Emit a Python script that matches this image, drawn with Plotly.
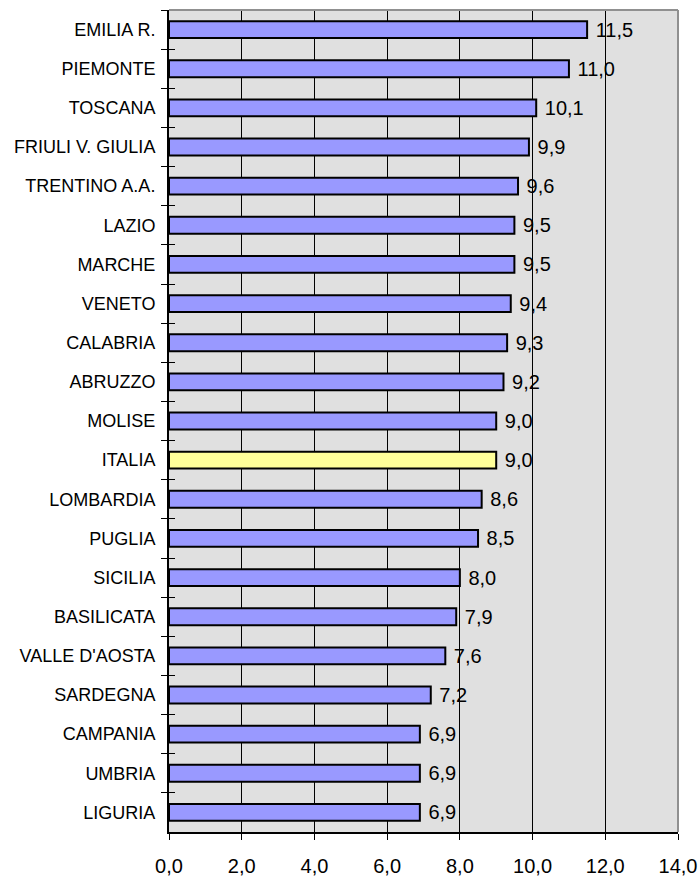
import plotly.graph_objects as go

regions = ["EMILIA R.", "PIEMONTE", "TOSCANA", "FRIULI V. GIULIA", "TRENTINO A.A.",
           "LAZIO", "MARCHE", "VENETO", "CALABRIA", "ABRUZZO", "MOLISE", "ITALIA",
           "LOMBARDIA", "PUGLIA", "SICILIA", "BASILICATA", "VALLE D'AOSTA",
           "SARDEGNA", "CAMPANIA", "UMBRIA", "LIGURIA"]
values = [11.5, 11.0, 10.1, 9.9, 9.6, 9.5, 9.5, 9.4, 9.3, 9.2, 9.0, 9.0,
          8.6, 8.5, 8.0, 7.9, 7.6, 7.2, 6.9, 6.9, 6.9]
x_ticks = [0, 2, 4, 6, 8, 10, 12, 14]

colors = ["#FFFF99" if r == "ITALIA" else "#9999FF" for r in regions]
labels = [" " + f"{v:.1f}".replace(".", ",") for v in values]

FONT = "Arial"
n = len(regions)
y_range = [n - 0.5, -0.5]  # reversed: first region on top

fig = go.Figure(go.Bar(
    x=values, y=regions, orientation="h",
    marker=dict(color=colors, line=dict(color="black", width=2)),
    text=labels, textposition="outside", cliponaxis=False,
    constraintext="none",
    textfont=dict(family=FONT, size=20, color="black"),
    width=0.43, hoverinfo="x+y",
))
# invisible helper trace so that the overlay axis draws the inner half of the ticks
fig.add_trace(go.Scatter(
    x=values, y=regions, yaxis="y2", mode="markers",
    marker=dict(opacity=0), hoverinfo="skip", showlegend=False,
))

fig.update_layout(
    width=699, height=878,
    margin=dict(l=169, r=21, t=10, b=46, autoexpand=False),
    paper_bgcolor="white", plot_bgcolor="#E0E0E0",
    separators=",.",
    showlegend=False,
    font=dict(family=FONT, color="black"),
    yaxis=dict(
        type="category", categoryarray=regions, categoryorder="array",
        range=y_range, tickson="boundaries",
        showline=True, linecolor="black", linewidth=2,
        ticks="outside", ticklen=6, tickcolor="black", tickwidth=1,
        ticklabelstandoff=8,
        tickfont=dict(family=FONT, size=18), showgrid=False, automargin=False,
    ),
    yaxis2=dict(
        overlaying="y", side="left", type="category",
        categoryarray=regions, categoryorder="array",
        range=y_range, tickson="boundaries",
        ticks="inside", ticklen=6, tickcolor="black", tickwidth=1,
        showticklabels=False, showgrid=False, showline=False, zeroline=False,
    ),
)
fig.update_xaxes(
    range=[0, 14], tickvals=x_ticks, tickformat=".1f",
    showgrid=True, gridcolor="black", gridwidth=1,
    showline=True, linecolor="black", linewidth=2,
    ticks="outside", ticklen=6, tickcolor="black", tickwidth=1,
    ticklabelstandoff=9,
    tickfont=dict(family=FONT, size=20), zeroline=False, automargin=False,
)
# gray top and right border
fig.add_shape(type="line", xref="paper", yref="paper", x0=0, x1=1, y0=1, y1=1,
              line=dict(color="#909090", width=2))
fig.add_shape(type="line", xref="paper", yref="paper", x0=1, x1=1, y0=0, y1=1,
              line=dict(color="#909090", width=2))

fig.write_html("out.html")
